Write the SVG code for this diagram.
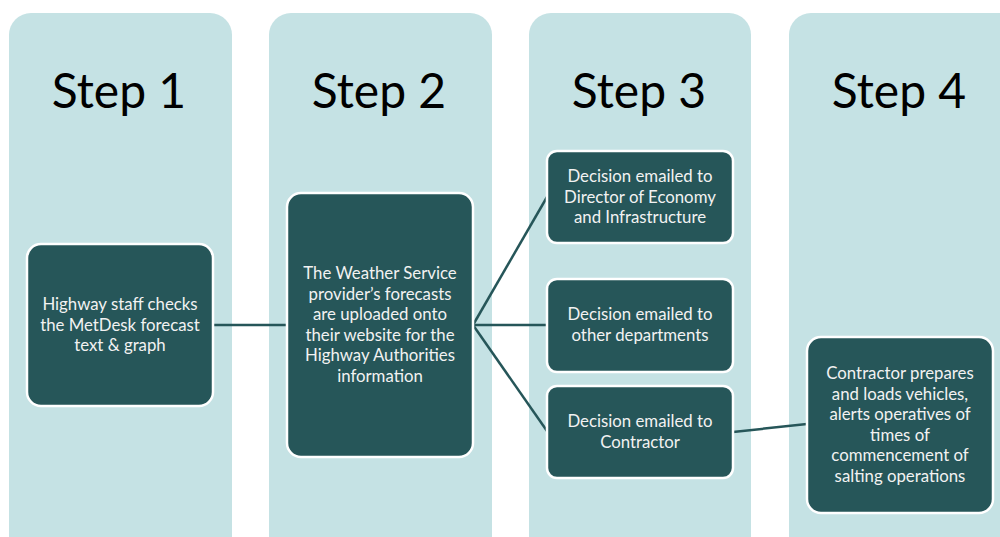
<svg xmlns="http://www.w3.org/2000/svg" width="1000" height="537" viewBox="0 0 1000 537">
<style>
.col{fill:#c5e2e4;}
.node{fill:#265659;stroke:#ffffff;stroke-width:2.5;}
.step{font-family:Lato,"Liberation Sans",sans-serif;font-size:48px;fill:#000000;text-anchor:middle;}
.lbl{font-family:Lato,"Liberation Sans",sans-serif;font-size:16.8px;fill:#f2f2f2;text-anchor:middle;}
.conn{stroke:#265659;stroke-width:2.5;fill:none;}
</style>
<rect width="1000" height="537" fill="#ffffff"/>
<g id="col1"><rect class="col" x="9" y="13" width="223" height="560" rx="22"/><text class="step" x="119" y="108">Step 1</text></g>
<g id="col2"><rect class="col" x="269" y="13" width="223" height="560" rx="22"/><text class="step" x="379" y="108">Step 2</text></g>
<g id="col3"><rect class="col" x="529" y="13" width="222" height="560" rx="22"/><text class="step" x="639" y="108">Step 3</text></g>
<g id="col4"><rect class="col" x="789" y="13" width="240" height="560" rx="22"/><text class="step" x="899" y="108">Step 4</text></g>
<g id="connectors">
<line class="conn" x1="213" y1="325" x2="287" y2="325"/>
<line class="conn" x1="473" y1="325" x2="547" y2="197"/>
<line class="conn" x1="473" y1="325" x2="547" y2="325"/>
<line class="conn" x1="473" y1="325" x2="547" y2="431"/>
<line class="conn" x1="733" y1="432" x2="807" y2="424"/>
</g>
<g id="node1"><rect class="node" x="27" y="244" width="186" height="162" rx="14"/>
<text class="lbl"><tspan x="120" y="310">Highway staff checks</tspan><tspan x="120" y="330.5">the MetDesk forecast</tspan><tspan x="120" y="351">text &amp; graph</tspan></text></g>
<g id="node2"><rect class="node" x="287" y="193" width="186" height="264" rx="14"/>
<text class="lbl"><tspan x="380" y="279">The Weather Service</tspan><tspan x="380" y="299.5">provider’s forecasts</tspan><tspan x="380" y="320">are uploaded onto</tspan><tspan x="380" y="340.5">their website for the</tspan><tspan x="380" y="361">Highway Authorities</tspan><tspan x="380" y="381.5">information</tspan></text></g>
<g id="node3a"><rect class="node" x="547" y="151" width="186" height="92" rx="10"/>
<text class="lbl"><tspan x="640" y="182">Decision emailed to</tspan><tspan x="640" y="202.5">Director of Economy</tspan><tspan x="640" y="223">and Infrastructure</tspan></text></g>
<g id="node3b"><rect class="node" x="547" y="279" width="186" height="93" rx="10"/>
<text class="lbl"><tspan x="640" y="320">Decision emailed to</tspan><tspan x="640" y="340.5">other departments</tspan></text></g>
<g id="node3c"><rect class="node" x="547" y="386" width="186" height="92" rx="10"/>
<text class="lbl"><tspan x="640" y="427">Decision emailed to</tspan><tspan x="640" y="447.5">Contractor</tspan></text></g>
<g id="node4"><rect class="node" x="807" y="337" width="186" height="176" rx="14"/>
<text class="lbl"><tspan x="900" y="379">Contractor prepares</tspan><tspan x="900" y="399.5">and loads vehicles,</tspan><tspan x="900" y="420">alerts operatives of</tspan><tspan x="900" y="440.5">times of</tspan><tspan x="900" y="461">commencement of</tspan><tspan x="900" y="481.5">salting operations</tspan></text></g>
</svg>
